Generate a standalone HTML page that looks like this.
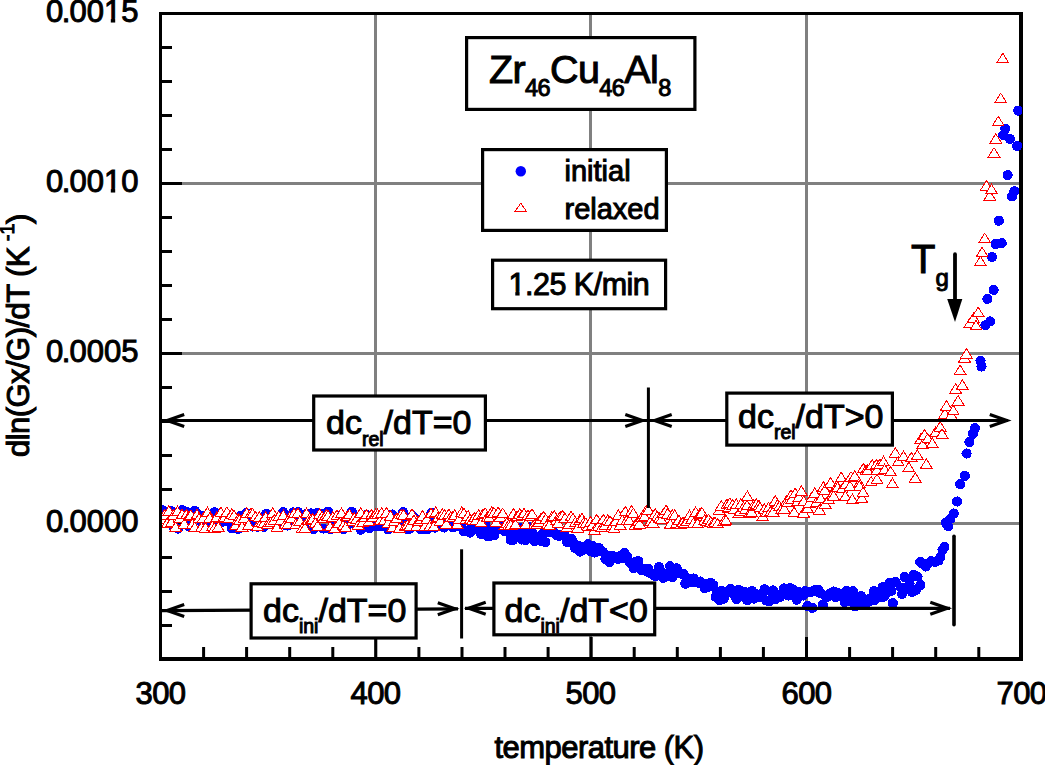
<!DOCTYPE html>
<html><head><meta charset="utf-8"><title>chart</title>
<style>html,body{margin:0;padding:0;background:#fff;overflow:hidden}svg{display:block}text{font-family:"Liberation Sans",sans-serif}</style>
</head><body>
<svg width="1045" height="765" viewBox="0 0 1045 765"><g stroke="#808080" stroke-width="3"><line x1="375.5" y1="14" x2="375.5" y2="657"/><line x1="590.5" y1="14" x2="590.5" y2="657"/><line x1="806.5" y1="14" x2="806.5" y2="657"/><line x1="162" y1="183.5" x2="1019" y2="183.5"/><line x1="162" y1="353.5" x2="1019" y2="353.5"/><line x1="162" y1="523.5" x2="1019" y2="523.5"/></g>
<g stroke="#000" stroke-width="3"><line x1="162" y1="47.5" x2="172" y2="47.5"/><line x1="162" y1="81.5" x2="172" y2="81.5"/><line x1="162" y1="115.5" x2="172" y2="115.5"/><line x1="162" y1="149.5" x2="172" y2="149.5"/><line x1="162" y1="183.5" x2="182" y2="183.5"/><line x1="162" y1="217.5" x2="172" y2="217.5"/><line x1="162" y1="251.5" x2="172" y2="251.5"/><line x1="162" y1="285.5" x2="172" y2="285.5"/><line x1="162" y1="319.5" x2="172" y2="319.5"/><line x1="162" y1="353.5" x2="182" y2="353.5"/><line x1="162" y1="387.5" x2="172" y2="387.5"/><line x1="162" y1="421.5" x2="172" y2="421.5"/><line x1="162" y1="455.5" x2="172" y2="455.5"/><line x1="162" y1="489.5" x2="172" y2="489.5"/><line x1="162" y1="523.5" x2="182" y2="523.5"/><line x1="162" y1="557.5" x2="172" y2="557.5"/><line x1="162" y1="591.5" x2="172" y2="591.5"/><line x1="162" y1="625.5" x2="172" y2="625.5"/><line x1="203.6" y1="657" x2="203.6" y2="647"/><line x1="246.6" y1="657" x2="246.6" y2="647"/><line x1="289.7" y1="657" x2="289.7" y2="647"/><line x1="332.8" y1="657" x2="332.8" y2="647"/><line x1="375.8" y1="657" x2="375.8" y2="637"/><line x1="418.9" y1="657" x2="418.9" y2="647"/><line x1="462.0" y1="657" x2="462.0" y2="647"/><line x1="505.0" y1="657" x2="505.0" y2="647"/><line x1="548.1" y1="657" x2="548.1" y2="647"/><line x1="591.2" y1="657" x2="591.2" y2="637"/><line x1="634.2" y1="657" x2="634.2" y2="647"/><line x1="677.3" y1="657" x2="677.3" y2="647"/><line x1="720.4" y1="657" x2="720.4" y2="647"/><line x1="763.4" y1="657" x2="763.4" y2="647"/><line x1="806.5" y1="657" x2="806.5" y2="637"/><line x1="849.6" y1="657" x2="849.6" y2="647"/><line x1="892.6" y1="657" x2="892.6" y2="647"/><line x1="935.7" y1="657" x2="935.7" y2="647"/><line x1="978.8" y1="657" x2="978.8" y2="647"/></g>
<rect x="159" y="12" width="3" height="649" fill="#000"/><rect x="159" y="12" width="864" height="3" fill="#000"/><rect x="1019" y="12" width="4" height="649" fill="#000"/><rect x="159" y="657" width="864" height="4" fill="#000"/>
<defs><clipPath id="pa"><rect x="162" y="15" width="860" height="642"/></clipPath></defs>
<g clip-path="url(#pa)"><g fill="#00f" shape-rendering="crispEdges"><circle cx="160.4" cy="511.9" r="5.1"/><circle cx="162.8" cy="510.3" r="5.1"/><circle cx="164.8" cy="516.5" r="5.1"/><circle cx="166.6" cy="519.5" r="5.1"/><circle cx="168.7" cy="518" r="5.1"/><circle cx="170.9" cy="510.9" r="5.1"/><circle cx="173.3" cy="526.2" r="5.1"/><circle cx="175.2" cy="513.7" r="5.1"/><circle cx="177.8" cy="528.6" r="5.1"/><circle cx="179.9" cy="517.3" r="5.1"/><circle cx="182.4" cy="510.2" r="5.1"/><circle cx="184.4" cy="515.2" r="5.1"/><circle cx="186" cy="511.7" r="5.1"/><circle cx="188.3" cy="525.9" r="5.1"/><circle cx="190.3" cy="521.2" r="5.1"/><circle cx="192.9" cy="517" r="5.1"/><circle cx="194.9" cy="510.8" r="5.1"/><circle cx="196.7" cy="513.7" r="5.1"/><circle cx="199.3" cy="518.1" r="5.1"/><circle cx="201.2" cy="521.3" r="5.1"/><circle cx="203.5" cy="515.7" r="5.1"/><circle cx="205.9" cy="523.5" r="5.1"/><circle cx="207.6" cy="521.1" r="5.1"/><circle cx="210" cy="526.9" r="5.1"/><circle cx="212.3" cy="515.6" r="5.1"/><circle cx="214.6" cy="512.3" r="5.1"/><circle cx="216.3" cy="524.6" r="5.1"/><circle cx="218.3" cy="519.5" r="5.1"/><circle cx="220.3" cy="522.9" r="5.1"/><circle cx="223.1" cy="521.1" r="5.1"/><circle cx="225.3" cy="516.3" r="5.1"/><circle cx="227.3" cy="521.5" r="5.1"/><circle cx="229.4" cy="519" r="5.1"/><circle cx="231.7" cy="528.1" r="5.1"/><circle cx="233.6" cy="522.9" r="5.1"/><circle cx="235.4" cy="523.5" r="5.1"/><circle cx="238" cy="528.9" r="5.1"/><circle cx="240.3" cy="515.9" r="5.1"/><circle cx="242.1" cy="522.9" r="5.1"/><circle cx="244" cy="519.2" r="5.1"/><circle cx="246.2" cy="513" r="5.1"/><circle cx="248.3" cy="524.7" r="5.1"/><circle cx="250.5" cy="515.4" r="5.1"/><circle cx="252.9" cy="526.5" r="5.1"/><circle cx="254.8" cy="519.1" r="5.1"/><circle cx="257.3" cy="526.7" r="5.1"/><circle cx="259.7" cy="526.4" r="5.1"/><circle cx="261.4" cy="518.5" r="5.1"/><circle cx="263.6" cy="526.8" r="5.1"/><circle cx="266.2" cy="513.9" r="5.1"/><circle cx="267.7" cy="515.3" r="5.1"/><circle cx="269.9" cy="519.8" r="5.1"/><circle cx="272.4" cy="515.9" r="5.1"/><circle cx="274.1" cy="518.6" r="5.1"/><circle cx="276.5" cy="521.3" r="5.1"/><circle cx="279.1" cy="523.5" r="5.1"/><circle cx="280.9" cy="522.2" r="5.1"/><circle cx="283.2" cy="512.2" r="5.1"/><circle cx="285.5" cy="525.1" r="5.1"/><circle cx="287.6" cy="525.5" r="5.1"/><circle cx="289.4" cy="518.3" r="5.1"/><circle cx="291.3" cy="522.6" r="5.1"/><circle cx="293.4" cy="512.4" r="5.1"/><circle cx="295.7" cy="514.1" r="5.1"/><circle cx="298" cy="512.1" r="5.1"/><circle cx="299.9" cy="513.9" r="5.1"/><circle cx="302.1" cy="517.8" r="5.1"/><circle cx="304.2" cy="527" r="5.1"/><circle cx="306.8" cy="513.9" r="5.1"/><circle cx="308.7" cy="517.5" r="5.1"/><circle cx="310.9" cy="513.4" r="5.1"/><circle cx="313.4" cy="529.2" r="5.1"/><circle cx="315.3" cy="520" r="5.1"/><circle cx="317.1" cy="513" r="5.1"/><circle cx="319.5" cy="516" r="5.1"/><circle cx="322" cy="514.1" r="5.1"/><circle cx="323.5" cy="528.6" r="5.1"/><circle cx="326.1" cy="513.9" r="5.1"/><circle cx="328.2" cy="511.7" r="5.1"/><circle cx="330.4" cy="529.1" r="5.1"/><circle cx="332.8" cy="524" r="5.1"/><circle cx="334.5" cy="517.9" r="5.1"/><circle cx="336.5" cy="525.4" r="5.1"/><circle cx="339" cy="525.6" r="5.1"/><circle cx="341" cy="515.3" r="5.1"/><circle cx="343.5" cy="529.4" r="5.1"/><circle cx="345.7" cy="526.1" r="5.1"/><circle cx="347.8" cy="524.9" r="5.1"/><circle cx="349.5" cy="520.8" r="5.1"/><circle cx="351.7" cy="511.7" r="5.1"/><circle cx="353.6" cy="516.4" r="5.1"/><circle cx="356" cy="524.1" r="5.1"/><circle cx="358.7" cy="519.5" r="5.1"/><circle cx="360.8" cy="529.7" r="5.1"/><circle cx="363" cy="518" r="5.1"/><circle cx="364.5" cy="515.5" r="5.1"/><circle cx="366.7" cy="515.1" r="5.1"/><circle cx="369.1" cy="528.2" r="5.1"/><circle cx="371.5" cy="520.3" r="5.1"/><circle cx="373.5" cy="526.3" r="5.1"/><circle cx="375.2" cy="523.8" r="5.1"/><circle cx="378" cy="526.1" r="5.1"/><circle cx="380" cy="520.4" r="5.1"/><circle cx="381.7" cy="526.3" r="5.1"/><circle cx="384" cy="526.5" r="5.1"/><circle cx="386.6" cy="519" r="5.1"/><circle cx="388.3" cy="529.4" r="5.1"/><circle cx="390.7" cy="514.8" r="5.1"/><circle cx="392.4" cy="514.5" r="5.1"/><circle cx="395.2" cy="526.8" r="5.1"/><circle cx="396.7" cy="527.2" r="5.1"/><circle cx="399.5" cy="524.1" r="5.1"/><circle cx="401.2" cy="522.1" r="5.1"/><circle cx="403.2" cy="512.1" r="5.1"/><circle cx="406" cy="524.1" r="5.1"/><circle cx="407.8" cy="529.4" r="5.1"/><circle cx="409.8" cy="528.3" r="5.1"/><circle cx="412.3" cy="515.9" r="5.1"/><circle cx="414" cy="517.5" r="5.1"/><circle cx="416.1" cy="523.1" r="5.1"/><circle cx="418.3" cy="520" r="5.1"/><circle cx="420.4" cy="529.2" r="5.1"/><circle cx="422.7" cy="520.8" r="5.1"/><circle cx="425" cy="529.2" r="5.1"/><circle cx="427" cy="529.5" r="5.1"/><circle cx="429.3" cy="522.4" r="5.1"/><circle cx="431.4" cy="513.1" r="5.1"/><circle cx="433.5" cy="516.2" r="5.1"/><circle cx="435.3" cy="527.6" r="5.1"/><circle cx="437.6" cy="521.7" r="5.1"/><circle cx="440.2" cy="523.3" r="5.1"/><circle cx="442" cy="522.7" r="5.1"/><circle cx="444.3" cy="527.5" r="5.1"/><circle cx="446.1" cy="523.6" r="5.1"/><circle cx="448.4" cy="518.6" r="5.1"/><circle cx="451" cy="522.8" r="5.1"/><circle cx="452.9" cy="527.3" r="5.1"/><circle cx="455.4" cy="521.8" r="5.1"/><circle cx="457.3" cy="523" r="5.1"/><circle cx="459.4" cy="526.4" r="5.1"/><circle cx="461.5" cy="523.9" r="5.1"/><circle cx="463.6" cy="531.4" r="5.1"/><circle cx="466" cy="530.7" r="5.1"/><circle cx="468.3" cy="520.6" r="5.1"/><circle cx="470.1" cy="532.6" r="5.1"/><circle cx="472.5" cy="519.5" r="5.1"/><circle cx="474.1" cy="525.1" r="5.1"/><circle cx="476.2" cy="522.2" r="5.1"/><circle cx="478.4" cy="529.7" r="5.1"/><circle cx="481.1" cy="533.9" r="5.1"/><circle cx="482.7" cy="531.4" r="5.1"/><circle cx="485.3" cy="522.7" r="5.1"/><circle cx="487.6" cy="536.2" r="5.1"/><circle cx="489.2" cy="536.3" r="5.1"/><circle cx="491.5" cy="529.5" r="5.1"/><circle cx="494.1" cy="535.3" r="5.1"/><circle cx="495.6" cy="529.6" r="5.1"/><circle cx="498.1" cy="528.7" r="5.1"/><circle cx="500" cy="528.8" r="5.1"/><circle cx="502.5" cy="524.5" r="5.1"/><circle cx="504.5" cy="531" r="5.1"/><circle cx="506.3" cy="529.5" r="5.1"/><circle cx="508.9" cy="532.4" r="5.1"/><circle cx="510.6" cy="539.7" r="5.1"/><circle cx="513.3" cy="539.7" r="5.1"/><circle cx="514.9" cy="529.3" r="5.1"/><circle cx="517" cy="537.1" r="5.1"/><circle cx="519.4" cy="527.6" r="5.1"/><circle cx="521.6" cy="539.5" r="5.1"/><circle cx="524.1" cy="529.9" r="5.1"/><circle cx="525.7" cy="540" r="5.1"/><circle cx="528.2" cy="536.9" r="5.1"/><circle cx="530" cy="527.4" r="5.1"/><circle cx="532.6" cy="533.2" r="5.1"/><circle cx="534.3" cy="541.1" r="5.1"/><circle cx="536.9" cy="539.3" r="5.1"/><circle cx="538.6" cy="540.4" r="5.1"/><circle cx="540.7" cy="540.8" r="5.1"/><circle cx="543.2" cy="533.2" r="5.1"/><circle cx="545.4" cy="542.2" r="5.1"/><circle cx="547.3" cy="530.5" r="5.1"/><circle cx="549.7" cy="532.4" r="5.1"/><circle cx="551.5" cy="531.5" r="5.1"/><circle cx="553.6" cy="532.4" r="5.1"/><circle cx="555.9" cy="534.7" r="5.1"/><circle cx="558.5" cy="535.7" r="5.1"/><circle cx="560.4" cy="535.5" r="5.1"/><circle cx="562.4" cy="534.5" r="5.1"/><circle cx="564.5" cy="535.3" r="5.1"/><circle cx="567" cy="542.1" r="5.1"/><circle cx="568.8" cy="542" r="5.1"/><circle cx="571.5" cy="538.6" r="5.1"/><circle cx="573.6" cy="543.1" r="5.1"/><circle cx="575.4" cy="548.4" r="5.1"/><circle cx="577.5" cy="545.5" r="5.1"/><circle cx="579.9" cy="551.6" r="5.1"/><circle cx="581.8" cy="550.4" r="5.1"/><circle cx="584.2" cy="548.6" r="5.1"/><circle cx="586.1" cy="546" r="5.1"/><circle cx="588" cy="544.3" r="5.1"/><circle cx="590.2" cy="550.9" r="5.1"/><circle cx="592.5" cy="545.7" r="5.1"/><circle cx="594.5" cy="552.6" r="5.1"/><circle cx="597.2" cy="551.4" r="5.1"/><circle cx="598.9" cy="548" r="5.1"/><circle cx="601.1" cy="550.9" r="5.1"/><circle cx="603.1" cy="552.2" r="5.1"/><circle cx="605.4" cy="558.8" r="5.1"/><circle cx="608.1" cy="556" r="5.1"/><circle cx="609.6" cy="562.1" r="5.1"/><circle cx="611.8" cy="555.7" r="5.1"/><circle cx="613.8" cy="556.4" r="5.1"/><circle cx="616.3" cy="558.3" r="5.1"/><circle cx="618.2" cy="558.8" r="5.1"/><circle cx="620.2" cy="555.9" r="5.1"/><circle cx="622.4" cy="558.2" r="5.1"/><circle cx="624.5" cy="553" r="5.1"/><circle cx="626.9" cy="556.5" r="5.1"/><circle cx="629.3" cy="561.7" r="5.1"/><circle cx="631.6" cy="564.4" r="5.1"/><circle cx="633.7" cy="568.3" r="5.1"/><circle cx="635.6" cy="561.8" r="5.1"/><circle cx="638.2" cy="561" r="5.1"/><circle cx="640.1" cy="567.4" r="5.1"/><circle cx="641.7" cy="570.2" r="5.1"/><circle cx="644.6" cy="568.7" r="5.1"/><circle cx="646.6" cy="571.5" r="5.1"/><circle cx="648.3" cy="568.9" r="5.1"/><circle cx="650.7" cy="573.5" r="5.1"/><circle cx="653.1" cy="574.3" r="5.1"/><circle cx="655.1" cy="576.1" r="5.1"/><circle cx="657.3" cy="574.5" r="5.1"/><circle cx="659.1" cy="567.1" r="5.1"/><circle cx="661.2" cy="571.5" r="5.1"/><circle cx="663.3" cy="577.8" r="5.1"/><circle cx="665.8" cy="575.1" r="5.1"/><circle cx="668" cy="576" r="5.1"/><circle cx="670" cy="566.2" r="5.1"/><circle cx="672.4" cy="577.3" r="5.1"/><circle cx="674.4" cy="574.4" r="5.1"/><circle cx="676.6" cy="568.4" r="5.1"/><circle cx="678.8" cy="572.2" r="5.1"/><circle cx="680.5" cy="573.5" r="5.1"/><circle cx="683.1" cy="573.9" r="5.1"/><circle cx="685.3" cy="583.7" r="5.1"/><circle cx="687.2" cy="578.1" r="5.1"/><circle cx="689.4" cy="582.2" r="5.1"/><circle cx="691.8" cy="582.4" r="5.1"/><circle cx="693.8" cy="578.5" r="5.1"/><circle cx="695.6" cy="581.2" r="5.1"/><circle cx="698.2" cy="582.7" r="5.1"/><circle cx="700.2" cy="581.5" r="5.1"/><circle cx="701.9" cy="583.7" r="5.1"/><circle cx="704.6" cy="588" r="5.1"/><circle cx="706.7" cy="584.3" r="5.1"/><circle cx="708.8" cy="586.6" r="5.1"/><circle cx="710.9" cy="582.9" r="5.1"/><circle cx="713.4" cy="585.3" r="5.1"/><circle cx="715.6" cy="596.7" r="5.1"/><circle cx="717" cy="591.7" r="5.1"/><circle cx="719.8" cy="600.2" r="5.1"/><circle cx="721.6" cy="590.6" r="5.1"/><circle cx="723.6" cy="598.6" r="5.1"/><circle cx="725.7" cy="593.7" r="5.1"/><circle cx="727.8" cy="592.6" r="5.1"/><circle cx="730.6" cy="588.9" r="5.1"/><circle cx="732.7" cy="593" r="5.1"/><circle cx="734.9" cy="595.9" r="5.1"/><circle cx="736.5" cy="599.2" r="5.1"/><circle cx="738.8" cy="589.8" r="5.1"/><circle cx="740.6" cy="595.6" r="5.1"/><circle cx="743.1" cy="592" r="5.1"/><circle cx="745" cy="591.9" r="5.1"/><circle cx="747.3" cy="600.3" r="5.1"/><circle cx="749.2" cy="598.9" r="5.1"/><circle cx="752" cy="591.1" r="5.1"/><circle cx="754.2" cy="598.6" r="5.1"/><circle cx="756.4" cy="594.2" r="5.1"/><circle cx="758.1" cy="595" r="5.1"/><circle cx="760.7" cy="597.1" r="5.1"/><circle cx="762.4" cy="594.9" r="5.1"/><circle cx="764.5" cy="589.4" r="5.1"/><circle cx="766.5" cy="600.5" r="5.1"/><circle cx="768.8" cy="601.3" r="5.1"/><circle cx="770.9" cy="591.6" r="5.1"/><circle cx="773.3" cy="590.4" r="5.1"/><circle cx="775.3" cy="599.3" r="5.1"/><circle cx="777.9" cy="596.9" r="5.1"/><circle cx="779.8" cy="597.2" r="5.1"/><circle cx="782.2" cy="593.7" r="5.1"/><circle cx="784.2" cy="588.4" r="5.1"/><circle cx="786.3" cy="593" r="5.1"/><circle cx="788.5" cy="595.6" r="5.1"/><circle cx="790.3" cy="588.2" r="5.1"/><circle cx="792.9" cy="589.4" r="5.1"/><circle cx="794.7" cy="592.9" r="5.1"/><circle cx="796.7" cy="599.7" r="5.1"/><circle cx="799.4" cy="592.3" r="5.1"/><circle cx="801.3" cy="593.4" r="5.1"/><circle cx="803.4" cy="595.5" r="5.1"/><circle cx="805.2" cy="591.2" r="5.1"/><circle cx="807.4" cy="606.1" r="5.1"/><circle cx="809.8" cy="592.4" r="5.1"/><circle cx="812.3" cy="607.9" r="5.1"/><circle cx="814.1" cy="590.8" r="5.1"/><circle cx="816" cy="589.8" r="5.1"/><circle cx="818.3" cy="589.8" r="5.1"/><circle cx="820.3" cy="593.2" r="5.1"/><circle cx="822.8" cy="604.6" r="5.1"/><circle cx="825" cy="595.7" r="5.1"/><circle cx="826.9" cy="597.2" r="5.1"/><circle cx="829.1" cy="594.2" r="5.1"/><circle cx="830.9" cy="593.3" r="5.1"/><circle cx="833.8" cy="591.5" r="5.1"/><circle cx="835.6" cy="596.9" r="5.1"/><circle cx="838" cy="592.9" r="5.1"/><circle cx="839.7" cy="593.5" r="5.1"/><circle cx="842" cy="596.4" r="5.1"/><circle cx="844.6" cy="602.2" r="5.1"/><circle cx="846.6" cy="591.1" r="5.1"/><circle cx="848.1" cy="601.3" r="5.1"/><circle cx="851" cy="598.2" r="5.1"/><circle cx="852.9" cy="591.2" r="5.1"/><circle cx="854.9" cy="606.3" r="5.1"/><circle cx="857.4" cy="605" r="5.1"/><circle cx="859.6" cy="596.7" r="5.1"/><circle cx="861.1" cy="596.2" r="5.1"/><circle cx="863.6" cy="602.8" r="5.1"/><circle cx="866.1" cy="602.8" r="5.1"/><circle cx="868" cy="602.1" r="5.1"/><circle cx="870" cy="598.8" r="5.1"/><circle cx="871.8" cy="599.9" r="5.1"/><circle cx="873.9" cy="591.1" r="5.1"/><circle cx="874.1" cy="600.1" r="5.1"/><circle cx="876.6" cy="593.1" r="5.1"/><circle cx="878.3" cy="591.7" r="5.1"/><circle cx="880.9" cy="597.1" r="5.1"/><circle cx="882.6" cy="587.4" r="5.1"/><circle cx="883.7" cy="596.7" r="5.1"/><circle cx="885.1" cy="594.9" r="5.1"/><circle cx="885.5" cy="587.6" r="5.1"/><circle cx="887.1" cy="588" r="5.1"/><circle cx="889.4" cy="583.1" r="5.1"/><circle cx="891.3" cy="590.8" r="5.1"/><circle cx="892.8" cy="603.1" r="5.1"/><circle cx="895.6" cy="582" r="5.1"/><circle cx="901" cy="587.6" r="5.1"/><circle cx="902" cy="594" r="5.1"/><circle cx="904.7" cy="577" r="5.1"/><circle cx="906" cy="589" r="5.1"/><circle cx="909.5" cy="583.5" r="5.1"/><circle cx="912" cy="592" r="5.1"/><circle cx="913.9" cy="574.8" r="5.1"/><circle cx="916.1" cy="589.9" r="5.1"/><circle cx="917.5" cy="576.6" r="5.1"/><circle cx="920.3" cy="562" r="5.1"/><circle cx="920.5" cy="585" r="5.1"/><circle cx="923" cy="564" r="5.1"/><circle cx="925.7" cy="566.5" r="5.1"/><circle cx="928" cy="563.5" r="5.1"/><circle cx="931.2" cy="561" r="5.1"/><circle cx="935" cy="562" r="5.1"/><circle cx="938.6" cy="560.5" r="5.1"/><circle cx="940.5" cy="557" r="5.1"/><circle cx="942.5" cy="549.8" r="5.1"/><circle cx="944.5" cy="547" r="5.1"/><circle cx="945.6" cy="522.6" r="5.1"/><circle cx="948.3" cy="526.3" r="5.1"/><circle cx="950.2" cy="519" r="5.1"/><circle cx="953.8" cy="513.5" r="5.1"/><circle cx="957.1" cy="501.5" r="5.1"/><circle cx="960.2" cy="484.1" r="5.1"/><circle cx="964.8" cy="475.9" r="5.1"/><circle cx="966.6" cy="453.5" r="5.1"/><circle cx="969.4" cy="442" r="5.1"/><circle cx="973" cy="433.7" r="5.1"/><circle cx="974.9" cy="428.2" r="5.1"/><circle cx="980.5" cy="360.6" r="5.1"/><circle cx="981.5" cy="366.5" r="5.1"/><circle cx="985.4" cy="325.3" r="5.1"/><circle cx="987.4" cy="298.8" r="5.1"/><circle cx="990.3" cy="321.4" r="5.1"/><circle cx="992" cy="257.1" r="5.1"/><circle cx="993.6" cy="289.8" r="5.1"/><circle cx="995.7" cy="244" r="5.1"/><circle cx="998.8" cy="220.7" r="5.1"/><circle cx="1001.7" cy="243.2" r="5.1"/><circle cx="1003.3" cy="135.1" r="5.1"/><circle cx="1005.4" cy="128.6" r="5.1"/><circle cx="1007.6" cy="175.2" r="5.1"/><circle cx="1010.1" cy="139" r="5.1"/><circle cx="1011.9" cy="196.4" r="5.1"/><circle cx="1014.4" cy="191.3" r="5.1"/><circle cx="1017" cy="145.9" r="5.1"/><circle cx="1018.3" cy="110.6" r="5.1"/></g><g fill="#fff" stroke="#f00" stroke-width="1" shape-rendering="crispEdges"><path d="M160.9 516.7L166.7 526.2H155Z"/><path d="M163 513.7L168.8 523.2H157.1Z"/><path d="M164.6 509.7L170.4 519.2H158.7Z"/><path d="M167.3 517.8L173.2 527.3H161.5Z"/><path d="M168.9 505.8L174.8 515.3H163.1Z"/><path d="M171.2 517.3L177.1 526.8H165.4Z"/><path d="M173.3 510L179.2 519.5H167.5Z"/><path d="M175.7 521.7L181.5 531.2H169.8Z"/><path d="M177.5 506.2L183.3 515.7H171.6Z"/><path d="M179.7 513L185.6 522.5H173.9Z"/><path d="M182.1 509.2L188 518.7H176.3Z"/><path d="M184.4 518.5L190.2 528H178.5Z"/><path d="M186.3 509.4L192.2 518.9H180.5Z"/><path d="M188.8 511.2L194.7 520.7H183Z"/><path d="M190.9 509.9L196.7 519.4H185Z"/><path d="M192.5 518.9L198.4 528.4H186.7Z"/><path d="M194.7 522.1L200.6 531.6H188.9Z"/><path d="M197 509.3L202.9 518.8H191.2Z"/><path d="M199 513.2L204.8 522.7H193.1Z"/><path d="M201.5 522.1L207.3 531.6H195.6Z"/><path d="M203.2 512.8L209.1 522.3H197.4Z"/><path d="M205.4 522.5L211.3 532H199.6Z"/><path d="M207.5 507.2L213.4 516.7H201.7Z"/><path d="M209.6 512.9L215.4 522.4H203.7Z"/><path d="M212.4 521L218.3 530.5H206.6Z"/><path d="M214.4 522.8L220.3 532.3H208.6Z"/><path d="M216.7 511.9L222.6 521.4H210.9Z"/><path d="M218.3 521.8L224.1 531.3H212.4Z"/><path d="M220.9 507.2L226.7 516.7H215Z"/><path d="M223 512.8L228.8 522.3H217.1Z"/><path d="M224.9 512.1L230.7 521.6H219Z"/><path d="M226.9 506.9L232.7 516.4H221Z"/><path d="M229.1 512.5L235 522H223.3Z"/><path d="M231.8 508.9L237.7 518.4H226Z"/><path d="M234 510.3L239.8 519.8H228.1Z"/><path d="M235.6 519.9L241.5 529.4H229.8Z"/><path d="M238.2 513.9L244 523.4H232.3Z"/><path d="M239.7 514.5L245.5 524H233.8Z"/><path d="M242.1 521.5L247.9 531H236.2Z"/><path d="M244.1 512.9L250 522.4H238.3Z"/><path d="M246.8 507.8L252.7 517.3H241Z"/><path d="M248.6 519.8L254.4 529.3H242.7Z"/><path d="M251 508.1L256.9 517.6H245.2Z"/><path d="M252.6 508.4L258.4 517.9H246.7Z"/><path d="M255.4 511.4L261.3 520.9H249.6Z"/><path d="M257.4 521.1L263.3 530.6H251.6Z"/><path d="M259.3 511.7L265.1 521.2H253.4Z"/><path d="M261.9 516.9L267.8 526.4H256.1Z"/><path d="M263.5 518.4L269.4 527.9H257.7Z"/><path d="M265.7 511.7L271.6 521.2H259.9Z"/><path d="M267.6 519L273.5 528.5H261.8Z"/><path d="M270.5 517.2L276.3 526.7H264.6Z"/><path d="M272.7 507.8L278.5 517.3H266.8Z"/><path d="M274.2 514.7L280.1 524.2H268.4Z"/><path d="M277 522.1L282.8 531.6H271.1Z"/><path d="M278.7 511.2L284.5 520.7H272.8Z"/><path d="M280.8 515L286.7 524.5H275Z"/><path d="M283.4 510.1L289.2 519.6H277.5Z"/><path d="M285.4 518.8L291.3 528.3H279.6Z"/><path d="M287.6 519.3L293.5 528.8H281.8Z"/><path d="M289.6 512.3L295.4 521.8H283.7Z"/><path d="M291.5 512.8L297.4 522.3H285.7Z"/><path d="M294 508.3L299.9 517.8H288.2Z"/><path d="M295.7 519.1L301.6 528.6H289.9Z"/><path d="M297.9 508L303.7 517.5H292Z"/><path d="M299.9 515.8L305.7 525.3H294Z"/><path d="M302.3 522.8L308.1 532.3H296.4Z"/><path d="M304.9 522.9L310.7 532.4H299Z"/><path d="M306.5 508.2L312.4 517.7H300.7Z"/><path d="M308.5 514.9L314.4 524.4H302.7Z"/><path d="M311.2 514.1L317 523.6H305.3Z"/><path d="M312.9 513.6L318.8 523.1H307.1Z"/><path d="M315.4 517.8L321.2 527.3H309.5Z"/><path d="M317.6 520.7L323.5 530.2H311.8Z"/><path d="M319.7 508.6L325.6 518.1H313.9Z"/><path d="M322 511.4L327.9 520.9H316.2Z"/><path d="M324 512.8L329.8 522.3H318.1Z"/><path d="M326.2 509.8L332.1 519.3H320.4Z"/><path d="M328 510.6L333.8 520.1H322.1Z"/><path d="M330.1 521.4L335.9 530.9H324.2Z"/><path d="M332.6 511.9L338.4 521.4H326.7Z"/><path d="M334.6 523.3L340.4 532.8H328.7Z"/><path d="M336.8 510.2L342.7 519.7H331Z"/><path d="M339.2 517.5L345 527H333.3Z"/><path d="M341.5 507.9L347.3 517.4H335.6Z"/><path d="M343.2 520.4L349.1 529.9H337.4Z"/><path d="M345.7 522.1L351.5 531.6H339.8Z"/><path d="M347.2 511.2L353 520.7H341.3Z"/><path d="M349.4 509.3L355.2 518.8H343.5Z"/><path d="M352.2 516.3L358.1 525.8H346.4Z"/><path d="M354.3 512.5L360.2 522H348.5Z"/><path d="M356.4 513.9L362.3 523.4H350.6Z"/><path d="M358.1 519.7L364 529.2H352.3Z"/><path d="M360.8 507.7L366.7 517.2H355Z"/><path d="M362.7 516.9L368.5 526.4H356.8Z"/><path d="M364.5 512.4L370.4 521.9H358.7Z"/><path d="M366.6 509.4L372.5 518.9H360.8Z"/><path d="M368.9 516.4L374.7 525.9H363Z"/><path d="M371.3 509.4L377.2 518.9H365.5Z"/><path d="M373 511.6L378.8 521.1H367.1Z"/><path d="M375.6 509.1L381.5 518.6H369.8Z"/><path d="M377.5 509.4L383.3 518.9H371.6Z"/><path d="M380 515.4L385.9 524.9H374.2Z"/><path d="M381.6 507.7L387.5 517.2H375.8Z"/><path d="M384 515.4L389.9 524.9H378.2Z"/><path d="M386.4 507.5L392.2 517H380.5Z"/><path d="M388.1 517.8L394 527.3H382.3Z"/><path d="M390.5 510.8L396.3 520.3H384.6Z"/><path d="M392.5 522.2L398.4 531.7H386.7Z"/><path d="M394.7 515.6L400.5 525.1H388.8Z"/><path d="M396.9 513L402.7 522.5H391Z"/><path d="M399.4 522.7L405.3 532.2H393.6Z"/><path d="M401.2 509.4L407 518.9H395.3Z"/><path d="M403.6 509.5L409.5 519H397.8Z"/><path d="M405.2 521L411.1 530.5H399.4Z"/><path d="M407.7 519.6L413.5 529.1H401.8Z"/><path d="M409.8 520.6L415.7 530.1H404Z"/><path d="M412 508.8L417.9 518.3H406.2Z"/><path d="M413.8 515.1L419.7 524.6H408Z"/><path d="M416.5 520.9L422.3 530.4H410.6Z"/><path d="M418.2 516.2L424 525.7H412.3Z"/><path d="M420.5 514.3L426.4 523.8H414.7Z"/><path d="M422.5 510.7L428.4 520.2H416.7Z"/><path d="M425 520.9L430.8 530.4H419.1Z"/><path d="M426.8 513.9L432.6 523.4H420.9Z"/><path d="M429.5 521.3L435.3 530.8H423.6Z"/><path d="M431.2 508.2L437 517.7H425.3Z"/><path d="M433.9 521.2L439.8 530.7H428.1Z"/><path d="M435.7 507.1L441.5 516.6H429.8Z"/><path d="M438.2 512.1L444 521.6H432.3Z"/><path d="M440.3 515.5L446.2 525H434.5Z"/><path d="M442.4 508.7L448.3 518.2H436.6Z"/><path d="M444.5 509.6L450.4 519.1H438.7Z"/><path d="M446.4 518.6L452.2 528.1H440.5Z"/><path d="M448.9 509L454.7 518.5H443Z"/><path d="M450.5 512L456.4 521.5H444.7Z"/><path d="M452.9 511.8L458.8 521.3H447.1Z"/><path d="M454.7 509.8L460.6 519.3H448.9Z"/><path d="M457.4 518.9L463.2 528.4H451.5Z"/><path d="M459 514.1L464.8 523.6H453.1Z"/><path d="M461.7 506.9L467.6 516.4H455.9Z"/><path d="M463.9 508L469.8 517.5H458.1Z"/><path d="M465.9 513.9L471.7 523.4H460Z"/><path d="M468.1 510.6L473.9 520.1H462.2Z"/><path d="M470 514.4L475.9 523.9H464.2Z"/><path d="M472.2 515.4L478 524.9H466.3Z"/><path d="M474.4 512.4L480.2 521.9H468.5Z"/><path d="M476.2 514.9L482 524.4H470.3Z"/><path d="M478.7 509.6L484.5 519.1H472.8Z"/><path d="M481.1 517.1L486.9 526.6H475.2Z"/><path d="M483 508.8L488.8 518.3H477.1Z"/><path d="M485.1 507.8L491 517.3H479.3Z"/><path d="M487 512.3L492.9 521.8H481.2Z"/><path d="M489.1 512.4L495 521.9H483.3Z"/><path d="M491.6 506.9L497.5 516.4H485.8Z"/><path d="M493.9 507.5L499.7 517H488Z"/><path d="M496.1 517.1L501.9 526.6H490.2Z"/><path d="M498.1 507.1L503.9 516.6H492.2Z"/><path d="M500.2 511.6L506.1 521.1H494.4Z"/><path d="M502.7 508.2L508.6 517.7H496.9Z"/><path d="M504.8 520.1L510.6 529.6H498.9Z"/><path d="M506.8 517.6L512.7 527.1H501Z"/><path d="M508.6 519.9L514.4 529.4H502.7Z"/><path d="M510.9 519.6L516.8 529.1H505.1Z"/><path d="M513.4 508.6L519.3 518.1H507.6Z"/><path d="M515.5 519.2L521.3 528.7H509.6Z"/><path d="M517.1 511.2L522.9 520.7H511.2Z"/><path d="M519.8 508.5L525.6 518H513.9Z"/><path d="M522 510.1L527.9 519.6H516.2Z"/><path d="M524.1 508.3L530 517.8H518.3Z"/><path d="M526 519L531.9 528.5H520.2Z"/><path d="M527.9 510L533.8 519.5H522.1Z"/><path d="M530.3 510.8L536.2 520.3H524.5Z"/><path d="M532.1 508.9L537.9 518.4H526.2Z"/><path d="M534.3 519.3L540.2 528.8H528.5Z"/><path d="M536.9 518.7L542.7 528.2H531Z"/><path d="M538.6 517.2L544.5 526.7H532.8Z"/><path d="M540.7 513.7L546.6 523.2H534.9Z"/><path d="M543.3 511.3L549.2 520.8H537.5Z"/><path d="M545.6 514L551.5 523.5H539.8Z"/><path d="M547.6 518.5L553.4 528H541.7Z"/><path d="M549.3 520.1L555.2 529.6H543.5Z"/><path d="M551.9 511.8L557.8 521.3H546.1Z"/><path d="M554.2 510.6L560 520.1H548.3Z"/><path d="M556.5 515.1L562.3 524.6H550.6Z"/><path d="M558.1 517.8L564 527.3H552.3Z"/><path d="M560.4 511.4L566.2 520.9H554.5Z"/><path d="M562.7 510.3L568.6 519.8H556.9Z"/><path d="M565 513L570.8 522.5H559.1Z"/><path d="M567 521.8L572.8 531.3H561.1Z"/><path d="M569.1 518.5L574.9 528H563.2Z"/><path d="M571 511.3L576.9 520.8H565.2Z"/><path d="M572.9 513.3L578.8 522.8H567.1Z"/><path d="M575.5 516.9L581.4 526.4H569.7Z"/><path d="M577.6 522.6L583.5 532.1H571.8Z"/><path d="M579.5 515.3L585.3 524.8H573.6Z"/><path d="M582 513.4L587.9 522.9H576.2Z"/><path d="M583.7 517.6L589.5 527.1H577.8Z"/><path d="M585.9 517.9L591.7 527.4H580Z"/><path d="M588.1 520.9L594 530.4H582.3Z"/><path d="M590.6 516.7L596.4 526.2H584.7Z"/><path d="M592.7 519.5L598.6 529H586.9Z"/><path d="M594.5 525L600.4 534.5H588.7Z"/><path d="M596.7 514.3L602.6 523.8H590.9Z"/><path d="M598.8 520.6L604.6 530.1H592.9Z"/><path d="M601.5 522.4L607.4 531.9H595.7Z"/><path d="M603.3 514.3L609.2 523.8H597.5Z"/><path d="M605.2 519.8L611 529.3H599.3Z"/><path d="M607.7 514.7L613.6 524.2H601.9Z"/><path d="M610 515.8L615.8 525.3H604.1Z"/><path d="M612.3 520.4L618.2 529.9H606.5Z"/><path d="M613.9 523.1L619.8 532.6H608.1Z"/><path d="M615.9 515.9L621.8 525.4H610.1Z"/><path d="M618.4 509.9L624.2 519.4H612.5Z"/><path d="M620.2 519.7L626.1 529.2H614.4Z"/><path d="M622.4 514.9L628.2 524.4H616.5Z"/><path d="M625.3 506.3L631.1 515.8H619.4Z"/><path d="M626.8 515.1L632.7 524.6H621Z"/><path d="M629.2 515.3L635.1 524.8H623.4Z"/><path d="M631.6 505.6L637.5 515.1H625.8Z"/><path d="M633.3 508.2L639.2 517.7H627.5Z"/><path d="M635.3 519.7L641.1 529.2H629.4Z"/><path d="M638 516.2L643.9 525.7H632.2Z"/><path d="M639.6 518.5L645.4 528H633.7Z"/><path d="M642.3 511.5L648.1 521H636.4Z"/><path d="M644.4 511.3L650.3 520.8H638.6Z"/><path d="M646.2 505.4L652 514.9H640.3Z"/><path d="M648.3 504.5L654.2 514H642.5Z"/><path d="M650.6 516.1L656.4 525.6H644.7Z"/><path d="M653 517.6L658.9 527.1H647.2Z"/><path d="M655.2 508.5L661 518H649.3Z"/><path d="M657.2 511.2L663 520.7H651.3Z"/><path d="M659.5 512.6L665.4 522.1H653.7Z"/><path d="M661.3 514.4L667.1 523.9H655.4Z"/><path d="M664 508L669.8 517.5H658.1Z"/><path d="M666.1 505.1L671.9 514.6H660.2Z"/><path d="M667.7 508.5L673.6 518H661.9Z"/><path d="M670.2 518.9L676.1 528.4H664.4Z"/><path d="M672.4 509.9L678.2 519.4H666.5Z"/><path d="M674.7 510L680.5 519.5H668.8Z"/><path d="M676.3 518.2L682.1 527.7H670.4Z"/><path d="M678.8 515.2L684.6 524.7H672.9Z"/><path d="M680.9 519.1L686.8 528.6H675.1Z"/><path d="M682.9 517.2L688.8 526.7H677.1Z"/><path d="M685.3 517.5L691.1 527H679.4Z"/><path d="M687.2 515.7L693 525.2H681.3Z"/><path d="M689.5 510.3L695.3 519.8H683.6Z"/><path d="M691.3 514.4L697.2 523.9H685.5Z"/><path d="M693.4 518.1L699.2 527.6H687.5Z"/><path d="M695.6 507L701.4 516.5H689.7Z"/><path d="M697.7 518.3L703.5 527.8H691.8Z"/><path d="M700 508.6L705.9 518.1H694.2Z"/><path d="M701.9 507.5L707.8 517H696.1Z"/><path d="M704.6 514.7L710.5 524.2H698.8Z"/><path d="M706.8 516L712.6 525.5H700.9Z"/><path d="M708.4 514.3L714.3 523.8H702.6Z"/><path d="M710.8 516.8L716.6 526.3H704.9Z"/><path d="M713.3 517.6L719.2 527.1H707.5Z"/><path d="M714.9 517.2L720.7 526.7H709Z"/><path d="M717.7 518.4L723.5 527.9H711.8Z"/><path d="M719.2 505L725 514.5H713.3Z"/><path d="M721.3 500.6L727.2 510.1H715.5Z"/><path d="M724.1 515.6L729.9 525.1H718.2Z"/><path d="M726.1 515.4L731.9 524.9H720.2Z"/><path d="M727.1 498.9L733 508.4H721.2Z"/><path d="M728.2 502.9L734.1 512.4H722.4Z"/><path d="M729.4 501.6L735.2 511.1H723.5Z"/><path d="M729.9 497.9L735.8 507.4H724.1Z"/><path d="M732.6 499.5L738.5 509H726.8Z"/><path d="M734.4 503.5L740.3 513H728.6Z"/><path d="M736.3 499L742.2 508.5H730.5Z"/><path d="M738.7 508.2L744.5 517.7H732.8Z"/><path d="M740.5 506.1L746.4 515.6H734.6Z"/><path d="M740.9 498.8L746.7 508.3H735Z"/><path d="M743.5 502L749.4 511.5H737.7Z"/><path d="M745.6 503.9L751.4 513.4H739.7Z"/><path d="M747.1 500.3L752.9 509.8H741.2Z"/><path d="M747.4 491.1L753.2 500.6H741.5Z"/><path d="M749.5 508L755.4 517.5H743.7Z"/><path d="M751.6 507.1L757.5 516.6H745.8Z"/><path d="M753.9 499.6L759.8 509.1H748.1Z"/><path d="M756.2 500.9L762.1 510.4H750.4Z"/><path d="M756.3 498.8L762.2 508.3H750.5Z"/><path d="M758.5 501.1L764.3 510.6H752.6Z"/><path d="M758.8 500.2L764.6 509.8H752.9Z"/><path d="M760 502.3L765.8 511.8H754.1Z"/><path d="M762.7 511.3L768.6 520.8H756.9Z"/><path d="M764.3 504.1L770.1 513.6H758.4Z"/><path d="M766.8 507.2L772.6 516.7H760.9Z"/><path d="M768.7 502.2L774.5 511.7H762.8Z"/><path d="M771 505.8L776.8 515.3H765.1Z"/><path d="M773.1 506.5L778.9 516H767.2Z"/><path d="M775.2 495.6L781.1 505.1H769.4Z"/><path d="M777.7 499.4L783.6 508.9H771.9Z"/><path d="M779.4 501.3L785.2 510.8H773.5Z"/><path d="M781.5 503.7L787.4 513.2H775.7Z"/><path d="M784.2 503.7L790 513.2H778.3Z"/><path d="M786.3 496.1L792.1 505.6H780.4Z"/><path d="M788.2 496.5L794.1 506H782.4Z"/><path d="M790.8 490.3L796.6 499.8H784.9Z"/><path d="M791.8 494.1L797.6 503.6H785.9Z"/><path d="M794.1 507.1L800 516.5H788.2Z"/><path d="M795.1 488.1L800.9 497.6H789.2Z"/><path d="M797.6 496.4L803.5 505.9H791.8Z"/><path d="M798.8 492L804.7 501.5H793Z"/><path d="M801.4 485.9L807.2 495.4H795.5Z"/><path d="M803.5 507.6L809.4 517.1H797.6Z"/><path d="M803.7 496.1L809.5 505.6H797.8Z"/><path d="M807.6 503.2L813.4 512.7H801.7Z"/><path d="M809.4 497.6L815.2 507.1H803.5Z"/><path d="M811.7 492.4L817.6 501.9H805.9Z"/><path d="M814.7 488.1L820.6 497.6H808.9Z"/><path d="M816.3 497.2L822.1 506.7H810.4Z"/><path d="M819.4 504.6L825.2 514.1H813.5Z"/><path d="M820.8 493.3L826.6 502.8H814.9Z"/><path d="M823.5 481.8L829.4 491.2H817.6Z"/><path d="M824.7 485L830.6 494.5H818.9Z"/><path d="M825.3 498.8L831.1 508.2H819.4Z"/><path d="M828.9 494.3L834.7 503.8H823Z"/><path d="M830.6 477.6L836.5 487.1H824.8Z"/><path d="M832.4 489.4L838.2 498.9H826.5Z"/><path d="M833.6 490.6L839.4 500.1H827.7Z"/><path d="M837 480.6L842.9 490.1H831.1Z"/><path d="M837.5 482.4L843.3 491.9H831.6Z"/><path d="M841.2 472.2L847.1 481.8H835.4Z"/><path d="M842.3 483.3L848.1 492.8H836.4Z"/><path d="M845.3 491.1L851.1 500.6H839.4Z"/><path d="M846.1 478.7L851.9 488.2H840.2Z"/><path d="M850 481.1L855.9 490.6H844.1Z"/><path d="M851 471.7L856.8 481.2H845.1Z"/><path d="M852.4 494.1L858.2 503.6H846.5Z"/><path d="M854.7 470.9L860.6 480.4H848.9Z"/><path d="M859.4 478.1L865.2 487.6H853.5Z"/><path d="M859.4 480.9L865.3 490.4H853.6Z"/><path d="M861.8 492.9L867.6 502.4H855.9Z"/><path d="M863 487.1L868.9 496.6H857.1Z"/><path d="M863.3 463.3L869.1 472.8H857.4Z"/><path d="M865.9 465.2L871.8 474.8H860Z"/><path d="M867.6 465L873.5 474.5H861.8Z"/><path d="M871.2 476.4L877.1 485.9H865.4Z"/><path d="M872.2 459.6L878 469.1H866.3Z"/><path d="M876.3 459.3L882.2 468.8H870.5Z"/><path d="M877 474.1L882.9 483.6H871.1Z"/><path d="M877 464.6L882.9 474.1H871.1Z"/><path d="M880 458.8L885.9 468.2H874.1Z"/><path d="M883.5 456.4L889.4 465.9H877.6Z"/><path d="M884.6 464.2L890.5 473.8H878.8Z"/><path d="M890.6 466.4L896.5 475.9H884.8Z"/><path d="M892.4 478.2L898.2 487.8H886.5Z"/><path d="M895.3 447.6L901.1 457.1H889.4Z"/><path d="M898.2 456.4L904.1 465.9H892.4Z"/><path d="M903.5 451.1L909.4 460.6H897.6Z"/><path d="M908.8 462.2L914.6 471.8H902.9Z"/><path d="M911.4 452.4L917.2 461.9H905.5Z"/><path d="M915.3 472.8L921.1 482.2H909.4Z"/><path d="M917.3 449.9L923.1 459.4H911.4Z"/><path d="M920.6 434.1L926.5 443.6H914.8Z"/><path d="M922.5 439.4L928.4 448.9H916.6Z"/><path d="M924.5 429.6L930.4 439.1H918.6Z"/><path d="M926.4 458.9L932.2 468.4H920.5Z"/><path d="M927.8 433.4L933.6 442.9H921.9Z"/><path d="M932.3 438.1L938.1 447.6H926.4Z"/><path d="M935.6 426.9L941.5 436.4H929.8Z"/><path d="M940.2 421.6L946.1 431.1H934.4Z"/><path d="M942.1 428.9L948 438.4H936.2Z"/><path d="M944.8 408.6L950.6 418.1H938.9Z"/><path d="M946.5 400.8L952.4 410.2H940.6Z"/><path d="M951.3 409.9L957.1 419.4H945.4Z"/><path d="M953.3 405.2L959.1 414.8H947.4Z"/><path d="M955.6 383.8L961.5 393.2H949.8Z"/><path d="M958.1 395.6L964 405.1H952.2Z"/><path d="M960.1 365.1L966 374.6H954.2Z"/><path d="M962.4 379.9L968.2 389.4H956.5Z"/><path d="M964.5 352.6L970.4 362.1H958.6Z"/><path d="M966.4 348.6L972.2 358.1H960.5Z"/><path d="M969.9 318.1L975.8 327.6H964Z"/><path d="M973.5 312.9L979.4 322.4H967.6Z"/><path d="M976.1 320.4L982 329.9H970.2Z"/><path d="M978.2 307.1L984.1 316.6H972.4Z"/><path d="M980.4 256.2L986.2 265.8H974.5Z"/><path d="M982.1 247.2L988 256.8H976.2Z"/><path d="M984.7 233.2L990.6 242.8H978.9Z"/><path d="M986.4 180.6L992.2 190.1H980.5Z"/><path d="M989.8 190.8L995.6 200.2H983.9Z"/><path d="M991.5 184.2L997.4 193.8H985.6Z"/><path d="M994 147.7L999.9 157.2H988.1Z"/><path d="M995.8 133.7L1001.6 143.2H989.9Z"/><path d="M998.3 116.2L1004.1 125.8H992.4Z"/><path d="M1000.7 93.2L1006.6 102.8H994.9Z"/><path d="M1002.8 53.2L1008.6 62.8H996.9Z"/></g></g>
<g stroke="#000" stroke-width="3.2" stroke-linejoin="miter" stroke-miterlimit="10"><line x1="162" y1="420.5" x2="1008" y2="420.5"/><polyline points="184.2,414.5 167.2,420.5 184.2,426.5" fill="none"/><polyline points="625.3,414.5 642.3,420.5 625.3,426.5" fill="none"/><polyline points="671.7,414.5 654.7,420.5 671.7,426.5" fill="none"/><polyline points="989.8,414.5 1006.8,420.5 989.8,426.5" fill="none"/><line x1="162" y1="610.6" x2="458" y2="608.8"/><line x1="465" y1="608.3" x2="950" y2="608.3"/><polyline points="184.2,604.6 167.2,610.6 184.2,616.6" fill="none"/><polyline points="437.8,602.8 454.8,608.8 437.8,614.8" fill="none"/><polyline points="485.7,602.3 468.7,608.3 485.7,614.3" fill="none"/><polyline points="930.3,602.3 947.3,608.3 930.3,614.3" fill="none"/></g>
<g stroke="#000" stroke-width="3"><line x1="648.4" y1="387.5" x2="648.4" y2="508"/><line x1="461.6" y1="549.3" x2="461.6" y2="638.5"/></g><line x1="954" y1="536.3" x2="954" y2="624.8" stroke="#000" stroke-width="3.6" stroke-linecap="round"/>
<rect x="466.6" y="37.6" width="228.3" height="71.8" fill="#fff" stroke="#000" stroke-width="3.2"/>
<rect x="482.6" y="149.6" width="183.8" height="80.8" fill="#fff" stroke="#000" stroke-width="3.2"/>
<rect x="492.6" y="260.20000000000005" width="173.00000000000006" height="48.499999999999986" fill="#fff" stroke="#000" stroke-width="3.2"/>
<rect x="313.70000000000005" y="396.0" width="171.7" height="54.00000000000004" fill="#fff" stroke="#000" stroke-width="3.2"/>
<rect x="726.8000000000001" y="393.1" width="165.59999999999997" height="51.999999999999986" fill="#fff" stroke="#000" stroke-width="3.2"/>
<rect x="251.1" y="583.8000000000001" width="165.0" height="54.199999999999974" fill="#fff" stroke="#000" stroke-width="3.2"/>
<rect x="493.90000000000003" y="583.0" width="160.79999999999995" height="51.8" fill="#fff" stroke="#000" stroke-width="3.2"/>
<g font-family="Liberation Sans, sans-serif" fill="#000" stroke="#000" stroke-width="1"><text x="138.5" y="22.3" font-size="31" text-anchor="end">0<tspan dx="-1.6">.</tspan><tspan dx="-0.8">0015</tspan></text><text x="138.5" y="192.3" font-size="31" text-anchor="end">0<tspan dx="-1.6">.</tspan><tspan dx="-0.8">0010</tspan></text><text x="138.5" y="362.3" font-size="31" text-anchor="end">0<tspan dx="-1.6">.</tspan><tspan dx="-0.8">0005</tspan></text><text x="138.5" y="532.3" font-size="31" text-anchor="end">0<tspan dx="-1.6">.</tspan><tspan dx="-0.8">0000</tspan></text><text x="160.5" y="704" font-size="31" text-anchor="middle" letter-spacing="-0.6">300</text><text x="375.5" y="704" font-size="31" text-anchor="middle" letter-spacing="-0.6">400</text><text x="590.5" y="704" font-size="31" text-anchor="middle" letter-spacing="-0.6">500</text><text x="806.5" y="704" font-size="31" text-anchor="middle" letter-spacing="-0.6">600</text><text x="1021.5" y="704" font-size="31" text-anchor="middle" letter-spacing="-0.6">700</text><text x="599" y="758" font-size="31" text-anchor="middle" letter-spacing="-0.54">temperature (K)</text><text transform="translate(29.4,457) rotate(-90)" font-size="31" letter-spacing="-0.55">dln(Gx/G)/dT (K<tspan font-size="19.5" dx="6" dy="-15.4" letter-spacing="0">-1</tspan><tspan dx="-0.3" dy="15.4">)</tspan></text><text x="489" y="83.2" font-size="39.5" letter-spacing="-0.6">Zr<tspan font-size="23.5" dy="12.8">46</tspan><tspan dy="-12.8">Cu</tspan><tspan font-size="23.5" dy="12.8">46</tspan><tspan dy="-12.8">Al</tspan><tspan font-size="23.5" dy="12.8">8</tspan></text><text x="564.5" y="181" font-size="29" text-anchor="start" >initial</text><text x="564.5" y="219" font-size="29" text-anchor="start" >relaxed</text><text x="508.5" y="295" font-size="30.5" text-anchor="start" letter-spacing="-0.5">1.25 K/min</text><text x="911" y="272.9" font-size="40">T<tspan font-size="24" dy="12.6">g</tspan></text><text x="326" y="434.3" font-size="34">dc<tspan font-size="19.5" dy="11.4">rel</tspan><tspan dy="-11.4">/dT=0</tspan></text><text x="738" y="428" font-size="34">dc<tspan font-size="19.5" dy="11.4">rel</tspan><tspan dy="-11.4">/dT&gt;0</tspan></text><text x="263" y="621.8" font-size="34">dc<tspan font-size="19.5" dy="11.4">ini</tspan><tspan dy="-11.4">/dT=0</tspan></text><text x="504.5" y="621.8" font-size="34">dc<tspan font-size="19.5" dy="11.4">ini</tspan><tspan dy="-11.4">/dT&lt;0</tspan></text></g>
<g fill="#fff"><rect x="105" y="18.6" width="5.8" height="4.6"/><rect x="115.2" y="18.6" width="6" height="4.6"/><rect x="105" y="188.6" width="5.8" height="4.6"/><rect x="115.2" y="188.6" width="6" height="4.6"/><rect x="509" y="291.6" width="6.3" height="4.6"/><rect x="519.6" y="291.6" width="6" height="4.6"/></g>
<circle cx="520.8" cy="171.2" r="5.2" fill="#00f"/>
<path d="M520.8 203.2L526.7 211.7H514.9Z" fill="#fff" stroke="#f00" stroke-width="1" shape-rendering="crispEdges"/>
<line x1="955" y1="254.2" x2="955" y2="305" stroke="#000" stroke-width="3.8" stroke-linecap="round"/>
<polygon points="947.2,299 962.3,299 955,322" fill="#000"/></svg>
</body></html>
